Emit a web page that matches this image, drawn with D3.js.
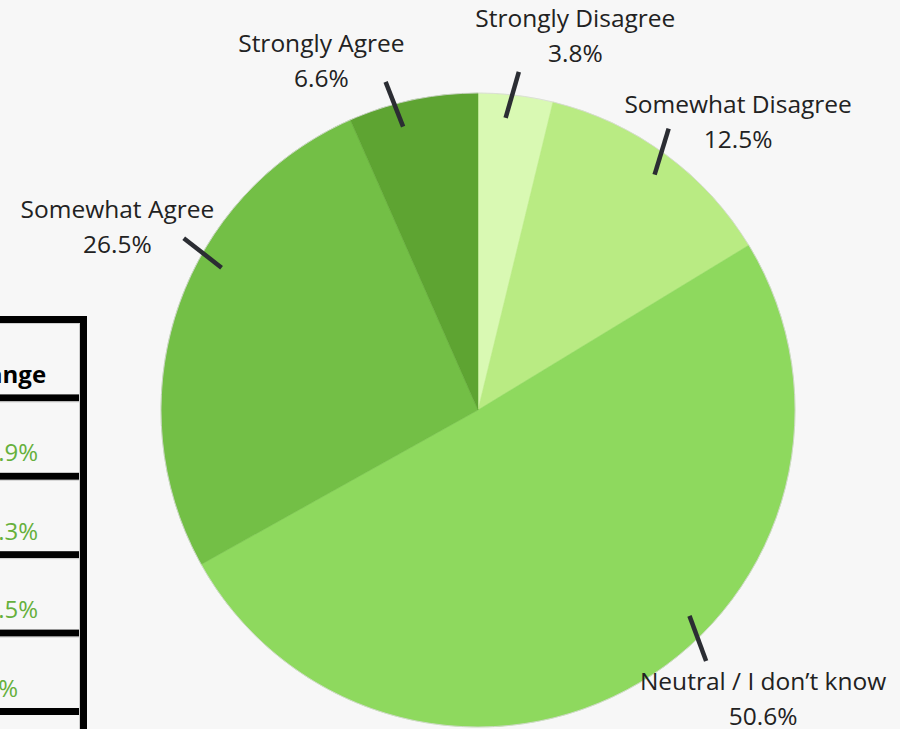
<!DOCTYPE html>
<html>
<head>
<meta charset="utf-8">
<script src="https://cdn.jsdelivr.net/npm/d3@7"></script>
<style>
  html, body { margin: 0; padding: 0; background: #f7f7f7; overflow: hidden; }
  text { font-family: "Open Sans", "Noto Sans", sans-serif; }
</style>
</head>
<body>
<div id="content"></div>
<script>
// survey answers, clockwise from 12 o'clock
const categories = ["Strongly Disagree", "Somewhat Disagree", "Neutral / I don\u2019t know", "Somewhat Agree", "Strongly Agree"];
const shares = [3.8, 12.5, 50.6, 26.5, 6.6];
const sliceColors = ["#d9f9b3", "#b9eb83", "#8ed95e", "#73bf46", "#5ea432"];

// table at the left, only its last column shows
const tableHeader = "Change";
const tableValues = ["+11.9%", "+11.3%", "+14.5%", "+12%"];

const W = 900;
const H = 729;
const cx = 478, cy = 410, R = 317;

// label placement (degrees / px from centre), tuned by eye
const labelAngle = [14.6, 42.1, 135.4, 296.8, 335.8];
const labelRadius = [386, 388, 406, 404, 382];
const tickAngle = [6.2, 35.4, 136.1, 299.7, 344.7];   // where the tick sits on the rim
const tickDir = [16, 17, 159.7, 308, 338.6];          // which way it points
const tickLen = 48;

const svg = d3.select("#content")
  .append("svg")
  .attr("width", W)
  .attr("height", H);

svg.append("rect")
  .attr("width", W)
  .attr("height", H)
  .attr("fill", "#f7f7f7");

// ---- table (clipped by the left edge) ----
const nRows = tableValues.length + 1;
const rowY = d3.scaleLinear().domain([0, nRows]).range([316, 708]);
const tableRight = 87, border = 7;
const tg = svg.append("g");

tg.selectAll("rect.hline")
  .data(d3.range(nRows + 1))
  .join("rect")
  .attr("class", "hline")
  .attr("x", -10)
  .attr("y", i => rowY(i))
  .attr("width", tableRight + 10)
  .attr("height", border)
  .attr("fill", "#000");

tg.append("rect")
  .attr("x", tableRight - border)
  .attr("y", rowY(0))
  .attr("width", border)
  .attr("height", H - rowY(0))
  .attr("fill", "#000");

// thin inner cell borders
tg.selectAll("line.inner")
  .data(d3.range(nRows))
  .join("line")
  .attr("class", "inner")
  .attr("x1", -10)
  .attr("x2", tableRight - border - 1)
  .attr("y1", i => rowY(i) + border + 0.5)
  .attr("y2", i => rowY(i) + border + 0.5)
  .attr("stroke", "#cfcfcf");
tg.append("line")
  .attr("x1", tableRight - border - 0.5)
  .attr("x2", tableRight - border - 0.5)
  .attr("y1", rowY(0) + border)
  .attr("y2", H)
  .attr("stroke", "#cfcfcf");

const textX = -43;
tg.append("text")
  .attr("x", textX)
  .attr("y", rowY(0) + 67)
  .attr("font-size", 24)
  .attr("font-weight", "bold")
  .attr("fill", "#000")
  .text(tableHeader);

tg.selectAll("text.val")
  .data(tableValues)
  .join("text")
  .attr("class", "val")
  .attr("x", textX)
  .attr("y", (d, i) => rowY(i + 1) + 67)
  .attr("font-size", 24)
  .attr("fill", "#66b03c")
  .text(d => d);

// ---- pie ----
const pie = d3.pie().sort(null).value(d => d)(shares);
const arc = d3.arc().innerRadius(0).outerRadius(R);
const g = svg.append("g").attr("transform", `translate(${cx},${cy})`);

g.selectAll("path")
  .data(pie)
  .join("path")
  .attr("d", arc)
  .attr("fill", (d, i) => sliceColors[i])
  .attr("stroke", (d, i) => sliceColors[i])
  .attr("stroke-width", 0.5);

// rim outline
g.append("circle")
  .attr("r", R)
  .attr("fill", "none")
  .attr("stroke", "#d8d8d8")
  .attr("stroke-width", 0.8);

const rad = a => a * Math.PI / 180;
const polar = (a, r) => [r * Math.sin(rad(a)), -r * Math.cos(rad(a))];

// ticks
g.selectAll("line.tick")
  .data(pie)
  .join("line")
  .attr("class", "tick")
  .each(function (d, i) {
    const [mx, my] = polar(tickAngle[i], R);
    const [dx, dy] = polar(tickDir[i], tickLen / 2);
    d3.select(this)
      .attr("x1", mx - dx).attr("y1", my - dy)
      .attr("x2", mx + dx).attr("y2", my + dy);
  })
  .attr("stroke", "#2b2d33")
  .attr("stroke-width", 4.5);

// labels
const lab = g.selectAll("text.lab")
  .data(pie)
  .join("text")
  .attr("class", "lab")
  .attr("text-anchor", "middle")
  .attr("font-size", 24.5)
  .attr("fill", "#222")
  .attr("transform", (d, i) => {
    const [x, y] = polar(labelAngle[i], labelRadius[i]);
    return `translate(${x},${y})`;
  });

lab.append("tspan")
  .attr("x", 0)
  .attr("y", -9.5)
  .text((d, i) => categories[i]);
lab.append("tspan")
  .attr("x", 0)
  .attr("y", 25.5)
  .text(d => d.data.toFixed(1) + "%");
</script>
</body>
</html>
